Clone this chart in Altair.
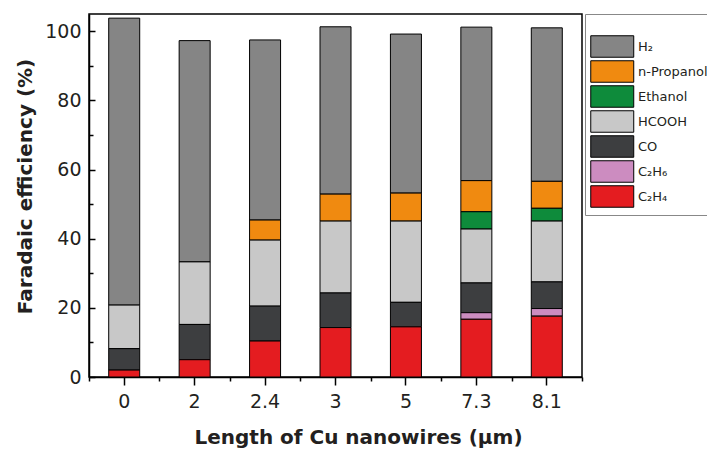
import altair as alt
import pandas as pd

# ---- data ----
lengths = ["0", "2", "2.4", "3", "5", "7.3", "8.1"]
c2h4 = [2.0, 5.0, 10.4, 14.3, 14.5, 16.7, 17.6]
c2h6 = [0.0, 0.0, 0.0, 0.0, 0.0, 1.9, 2.2]
co = [6.2, 10.2, 10.1, 10.0, 7.1, 8.6, 7.7]
hcooh = [12.6, 18.1, 19.1, 20.8, 23.5, 15.6, 17.6]
ethanol = [0.0, 0.0, 0.0, 0.0, 0.0, 5.0, 3.7]
npropanol = [0.0, 0.0, 5.8, 7.8, 8.1, 9.0, 7.8]
h2 = [83.0, 64.0, 52.1, 48.4, 46.0, 44.4, 44.4]

# legend order (top to bottom); stack order is the reverse
products = ["H₂", "n-Propanol", "Ethanol", "HCOOH", "CO", "C₂H₆", "C₂H₄"]
colors = ["#858585", "#F08A10", "#0E8B3B", "#C8C8C8", "#3D3E40", "#CC8CC0", "#E41C20"]
series = [h2, npropanol, ethanol, hcooh, co, c2h6, c2h4]

y_major = [0, 20, 40, 60, 80, 100]
y_minor = [10, 30, 50, 70, 90]

rows = []
for p_i, (name, vals) in enumerate(zip(products, series)):
    for length, v in zip(lengths, vals):
        if v > 0:
            rows.append({"length": length, "product": name, "value": v,
                         "ord": len(products) - 1 - p_i})
df = pd.DataFrame(rows)

W, H = 493, 363
FONT = "DejaVu Sans"
TXT = "#231f20"

x_scale = alt.Scale(paddingInner=0, paddingOuter=0)
y_scale = alt.Scale(domain=[0, 105], nice=False, zero=True)

base = alt.Chart(df)

bars = base.mark_bar(size=31, stroke="black", strokeWidth=1).encode(
    x=alt.X("length:N", sort=lengths, scale=x_scale,
            axis=alt.Axis(orient="bottom", title="Length of Cu nanowires (μm)",
                          labelAngle=0, tickSize=8, tickColor="black", tickWidth=1.5,
                          domainColor="black", domainWidth=1.5, grid=False,
                          labelFont=FONT, labelFontSize=19, labelColor=TXT, labelPadding=7,
                          titleFont=FONT, titleFontSize=20, titleFontWeight="bold",
                          titleColor=TXT, titleX=269, titleY=60, titleBaseline="middle",
                          titleAlign="center")),
    y=alt.Y("value:Q", stack="zero", scale=y_scale,
            axis=alt.Axis(orient="left", values=y_major, ticks=False, grid=False,
                          domainColor="black", domainWidth=1.5,
                          labelFont=FONT, labelFontSize=19, labelColor=TXT, labelPadding=8,
                          title="Faradaic efficiency (%)", titleFont=FONT, titleFontSize=20,
                          titleFontWeight="bold", titleColor=TXT, titleX=-64, titleY=172,
                          titleBaseline="middle", titleAlign="center")),
    color=alt.Color("product:N", scale=alt.Scale(domain=products, range=colors),
                    legend=alt.Legend(title=" ", titleFontSize=14, titlePadding=2,
                                      orient="right", offset=3, padding=5,
                                      symbolType="M-1,-1H3V1H-1Z", symbolSize=462,
                                      symbolStrokeColor="black", symbolStrokeWidth=1,
                                      symbolOpacity=1, labelFont=FONT, labelFontSize=13,
                                      labelColor=TXT, labelOffset=25, rowPadding=-2,
                                      strokeColor="#888888", labelLimit=200)),
    order=alt.Order("ord:Q", sort="ascending"),
)

y_major_ticks = base.mark_bar(opacity=0).encode(
    x=alt.X("length:N", sort=lengths, scale=x_scale, axis=None),
    y=alt.Y("value:Q", scale=y_scale,
            axis=alt.Axis(orient="right", offset=-W, values=y_major, tickSize=6,
                          tickWidth=1.5, tickColor="black", labels=False, domain=False,
                          grid=False, title=None)),
)
y_minor_ticks = base.mark_bar(opacity=0).encode(
    x=alt.X("length:N", sort=lengths, scale=x_scale, axis=None),
    y=alt.Y("value:Q", scale=y_scale,
            axis=alt.Axis(orient="right", offset=-W, values=y_minor, tickSize=4,
                          tickWidth=1.5, tickColor="black", labels=False, domain=False,
                          grid=False, title=None)),
)
x_minor_ticks = base.mark_bar(opacity=0).encode(
    x=alt.X("length:N", sort=lengths, scale=x_scale,
            axis=alt.Axis(orient="bottom", tickBand="extent", tickSize=4, tickWidth=1.5,
                          tickColor="black", labels=False, domain=False, grid=False,
                          title=None)),
    y=alt.Y("value:Q", scale=y_scale, axis=None),
)

chart = alt.layer(bars, y_major_ticks, y_minor_ticks, x_minor_ticks).resolve_axis(
    x="independent", y="independent"
).properties(
    width=W, height=H,
    autosize=alt.AutoSizeParams(type="none"),
    padding={"left": 81, "top": 6, "right": 125, "bottom": 72},
    background="white",
).configure_view(stroke="black", strokeWidth=1.5)

chart.save("out.html", embed_options={"renderer": "svg", "actions": False})
